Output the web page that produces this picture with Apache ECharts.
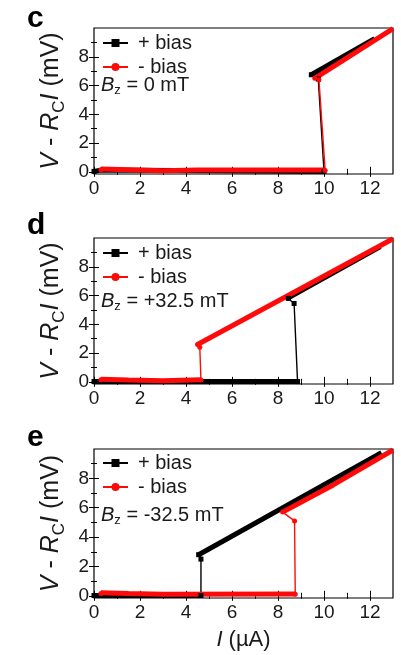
<!DOCTYPE html>
<html>
<head>
<meta charset="utf-8">
<script src="https://cdn.jsdelivr.net/npm/echarts@6/dist/echarts.min.js"></script>
<style>html,body{margin:0;padding:0;background:#fff;}#c{width:401px;height:655px;}</style>
</head>
<body>
<div id="c"></div>
<script>
// ---- data (I in µA, V - RcI in mV) ----
const xMajor = [0, 2, 4, 6, 8, 10, 12];
const xMinor = [1, 3, 5, 7, 9, 11];
const yMajor = [0, 2, 4, 6, 8];
const yMinor = [1, 3, 5, 7, 9];
const panelLetters = ['c', 'd', 'e'];
const fieldLabels = ['0 mT', '+32.5 mT', '-32.5 mT'];

// panel c (Bz = 0 mT)
const plusC_jump = [[0, 0.03], [10.0, 0.03], [9.75, 6.45], [9.45, 6.75]];
const plusC_low = [[0, 0.03], [0.3, 0.12], [10.0, 0.03]];
const plusC_up = [[9.45, 6.75], [12.2, 9.25]];
const minusC_jump = [[0.3, 0.15], [10.05, 0.1], [9.78, 6.4], [9.6, 6.5]];
const minusC_low = [[0.3, 0.2], [1.5, 0.15], [3.0, 0.08], [4.5, 0.12], [10.05, 0.12]];
const minusC_up = [[9.6, 6.5], [13, 9.95]];

// panel d (Bz = +32.5 mT)
const plusD_jump = [[0, 0.02], [8.85, 0.02], [8.7, 5.45], [8.45, 5.8]];
const plusD_low = [[0, 0.02], [8.85, 0.02]];
const plusD_up = [[8.45, 5.85], [12.45, 9.4]];
const minusD_jump = [[0.3, 0.15], [4.65, 0.12], [4.6, 2.4], [4.5, 2.6]];
const minusD_low = [[0.3, 0.18], [1.5, 0.12], [3.0, 0.08], [4.65, 0.15]];
const minusD_up = [[4.5, 2.6], [13, 9.95]];

// panel e (Bz = -32.5 mT)
const plusE_jump = [[0, 0.02], [4.65, 0.02], [4.65, 2.5], [4.55, 2.8]];
const plusE_low = [[0, 0.02], [4.65, 0.02]];
const plusE_up = [[4.55, 2.8], [12.5, 9.75]];
const minusE_jump = [[0.3, 0.15], [8.75, 0.1], [8.72, 5.1], [8.2, 5.7]];
const minusE_low = [[0.3, 0.2], [1.5, 0.15], [3.0, 0.1], [8.75, 0.12]];
const minusE_up = [[8.2, 5.7], [10.4, 7.55], [13, 9.93]];

const panels = [
  { plus: [plusC_jump, plusC_low, plusC_up], minus: [minusC_jump, minusC_low, minusC_up] },
  { plus: [plusD_jump, plusD_low, plusD_up], minus: [minusD_jump, minusD_low, minusD_up] },
  { plus: [plusE_jump, plusE_low, plusE_up], minus: [minusE_jump, minusE_low, minusE_up] }
];

// ---- layout ----
const FONT = 'Liberation Sans, Arial, sans-serif';
const TXT = '#1a1a1a';
const BLACK = '#000000';
const RED = '#ff0a0a';
const gridTops = [28, 238, 449];
const gridHeights = [146, 146, 149];
const legendTops = [33, 243, 453];
const bzTops = [75, 291, 505];
const letterTops = [4, 211, 423];

const grids = [], xAxes = [], yAxes = [], series = [], legends = [], graphics = [];

function tickAxis(dim, gi, pos, vals, len, labels) {
  return {
    gridIndex: gi, type: 'value', position: pos,
    min: dim === 'x' ? 0 : -0.15, max: dim === 'x' ? 13 : 10,
    axisLine: { show: false },
    splitLine: { show: false },
    axisTick: { show: true, inside: true, length: len, customValues: vals, lineStyle: { color: BLACK, width: 1 } },
    axisLabel: { show: !!labels, customValues: vals, fontSize: 19, color: TXT, fontFamily: FONT, margin: 5 }
  };
}

for (let p = 0; p < 3; p++) {
  grids.push({ left: 94, right: 8, top: gridTops[p], height: gridHeights[p], show: true, borderColor: BLACK, borderWidth: 1.2, backgroundColor: 'transparent' });
  const xi = xAxes.length, yi = yAxes.length;
  const xMain = tickAxis('x', p, 'bottom', xMajor, 5, true);
  if (p === 2) {
    xMain.name = '{i|I} (µA)';
    xMain.nameLocation = 'middle';
    xMain.nameGap = 31;
    xMain.nameTextStyle = { fontSize: 22, color: TXT, fontFamily: FONT, rich: { i: { fontStyle: 'italic', fontSize: 22, fontFamily: FONT, color: TXT } } };
  }
  xAxes.push(xMain);
  xAxes.push(tickAxis('x', p, 'bottom', xMinor, 3, false));
  xAxes.push(tickAxis('x', p, 'top', xMajor, 5, false));
  xAxes.push(tickAxis('x', p, 'top', xMinor, 3, false));
  const yMain = tickAxis('y', p, 'left', yMajor, 5, true);
  yMain.name = '{i|V} - {i|R}{sub|C}{i|I} (mV)';
  yMain.nameLocation = 'middle';
  yMain.nameGap = 26;
  yMain.nameRotate = 90;
  yMain.nameTextStyle = {
    fontSize: 25, color: TXT, fontFamily: FONT,
    rich: {
      i: { fontStyle: 'italic', fontSize: 25, fontFamily: FONT, color: TXT },
      sub: { fontSize: 17, fontFamily: FONT, color: TXT, padding: [15, 0, 0, 0] }
    }
  };
  yAxes.push(yMain);
  yAxes.push(tickAxis('y', p, 'left', yMinor, 3, false));
  yAxes.push(tickAxis('y', p, 'right', yMajor, 5, false));
  yAxes.push(tickAxis('y', p, 'right', yMinor, 3, false));

  const pr = panels[p];
  [['+ bias', pr.plus, BLACK, 'rect'], ['- bias', pr.minus, RED, 'circle']].forEach(([name, arrs, col, sym]) => {
    series.push({
      name, type: 'line', xAxisIndex: xi, yAxisIndex: yi, data: arrs[0],
      symbol: sym, symbolSize: 5, showSymbol: true, animation: false,
      lineStyle: { color: col, width: 1.4 }, itemStyle: { color: col }
    });
    [arrs[1], arrs[2]].forEach(d => series.push({
      name, type: 'line', xAxisIndex: xi, yAxisIndex: yi, data: d,
      symbol: 'none', animation: false,
      lineStyle: { color: col, width: 5 }, itemStyle: { color: col }
    }));
  });

  legends.push({
    data: ['+ bias', '- bias'], orient: 'vertical', left: 102, top: legendTops[p], padding: 0,
    itemWidth: 25, itemHeight: 10, itemGap: 4, selectedMode: false,
    lineStyle: { width: 2 },
    textStyle: { fontSize: 20, color: TXT, fontFamily: FONT, lineHeight: 20, padding: [0, 0, 0, 5] }
  });

  graphics.push({
    type: 'text', left: 101, top: bzTops[p],
    style: {
      text: '{i|B}{sub|z} = ' + fieldLabels[p], fill: TXT, fontSize: 20, fontFamily: FONT,
      rich: {
        i: { fontStyle: 'italic', fontSize: 20, fontFamily: FONT, fill: TXT },
        sub: { fontSize: 13, fontFamily: FONT, fill: TXT, padding: [11, 0, 0, 0] }
      }
    }
  });
  graphics.push({
    type: 'text', left: 27, top: letterTops[p],
    style: { text: panelLetters[p], fill: '#000', fontSize: 30, fontWeight: 'bold', fontFamily: FONT }
  });
}

const chart = echarts.init(document.getElementById('c'), null, { renderer: 'canvas' });
chart.setOption({
  backgroundColor: '#fff',
  animation: false,
  grid: grids, xAxis: xAxes, yAxis: yAxes, series, legend: legends, graphic: graphics
});
</script>
</body>
</html>
